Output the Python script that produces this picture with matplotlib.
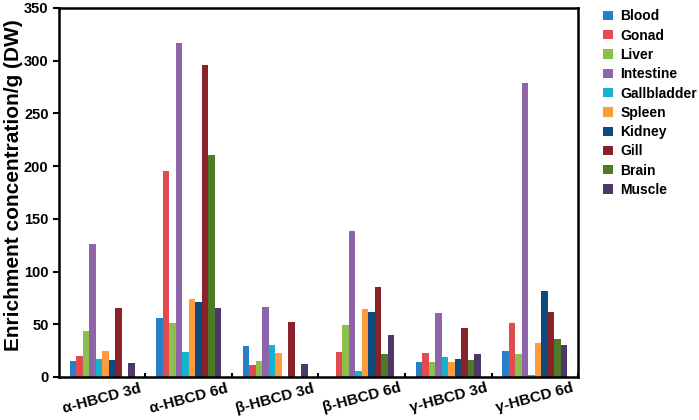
import numpy as np
import matplotlib
matplotlib.use("Agg")
import matplotlib.pyplot as plt

plt.rcParams['font.family'] = ['Liberation Sans', 'DejaVu Sans']
plt.rcParams['font.weight'] = 'bold'

groups = ['α-HBCD 3d', 'α-HBCD 6d', 'β-HBCD 3d', 'β-HBCD 6d', 'γ-HBCD 3d', 'γ-HBCD 6d']
tissues = ['Blood', 'Gonad', 'Liver', 'Intestine', 'Gallbladder',
           'Spleen', 'Kidney', 'Gill', 'Brain', 'Muscle']

# values per tissue, one per group
blood       = [15, 55.7, 29.7, 0, 14, 25]
gonad       = [20, 195, 11.4, 23.4, 23, 51]
liver       = [43.3, 51.2, 15.2, 49, 14, 21.8]
intestine   = [125.9, 316.6, 66, 138, 60.7, 278.6]
gallbladder = [17, 24, 30.7, 6, 18.7, 2]
spleen      = [25, 74, 22.5, 64.8, 14, 32.6]
kidney      = [15.8, 70.9, 0, 61.4, 17.4, 81.9]
gill        = [65.8, 295.7, 51.9, 85.4, 46.5, 62]
brain       = [0, 210.3, 0, 21.5, 15.8, 36.4]
muscle      = [13, 65.2, 12, 39.8, 21.5, 30.7]

series = [blood, gonad, liver, intestine, gallbladder,
          spleen, kidney, gill, brain, muscle]
colors = ['#2680c8', '#e24b50', '#8cbf4e', '#8e65ab', '#15b2cf',
          '#ff9b3d', '#0e4b7c', '#8a2329', '#4f7a27', '#4e3869']

fig = plt.figure(figsize=(6.99, 4.2), dpi=100)
ax = fig.add_axes([0.0844, 0.1024, 0.7425, 0.8786])

x = np.arange(len(groups))
width = 0.075
for i, (vals, name, col) in enumerate(zip(series, tissues, colors)):
    offset = (i - 4.5) * width
    ax.bar(x + offset, vals, width, color=col, label=name, linewidth=0)

ax.set_xlim(-0.5, len(groups) - 0.5)
ax.set_ylim(0, 350)
ax.set_yticks(np.arange(0, 351, 50))
ax.set_xticks(x)
ax.set_xticklabels(groups, rotation=15, fontsize=11, fontweight='bold')
ax.set_xticks(np.arange(0.5, len(groups), 1), minor=True)
ax.tick_params(axis='x', which='major', length=0, pad=3)
ax.tick_params(axis='x', which='minor', direction='in', length=3, width=1.5)
ax.tick_params(axis='y', direction='out', length=4, width=1.5, labelsize=10.5)
for lbl in ax.get_yticklabels():
    lbl.set_fontweight('bold')

for s in ax.spines.values():
    s.set_linewidth(1.8)

ax.set_ylabel('Enrichment concentration/g (DW)', fontsize=15, fontweight='bold')
ax.yaxis.set_label_coords(-0.069, 0.52)

ax.legend(loc='upper left', bbox_to_anchor=(1.025, 1.03), frameon=False,
          prop={'size': 10, 'weight': 'bold'}, handlelength=0.65, handleheight=0.65,
          handletextpad=0.55, labelspacing=0.38)

fig.savefig('out.png', dpi=100)
